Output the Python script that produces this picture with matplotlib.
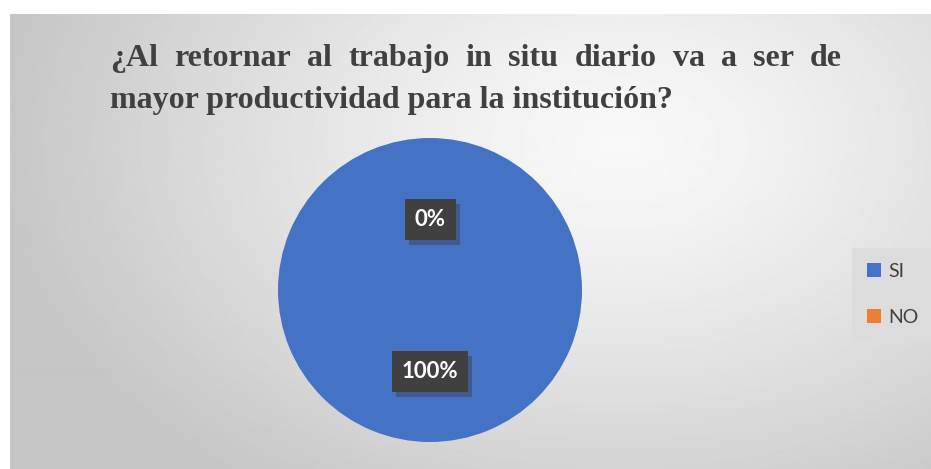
import numpy as np
import matplotlib.pyplot as plt
from matplotlib import patheffects

# datos del gráfico
categorias = ['SI', 'NO']
valores = [100, 0]
colores = ['#4472C4', '#ED7D31']
titulo_l1 = '¿Al retornar al trabajo in situ diario va a ser de'
titulo_l2 = 'mayor productividad para la institución?'

W, H = 931, 469
fig = plt.figure(figsize=(W / 100, H / 100), dpi=100)
fig.patch.set_facecolor('white')

# fondo con degradado radial (área del gráfico)
bg = fig.add_axes([10 / W, 0, (W - 10) / W, (H - 14) / H])
yy, xx = np.mgrid[0:455, 0:921]
cx, cy = 610, 130
d = np.sqrt(((xx - cx) / 620) ** 2 + ((yy - cy) / 420) ** 2)
grad = 0.975 - 0.20 * np.clip(d, 0, 1) ** 1.3
bg.imshow(grad, cmap='gray', vmin=0, vmax=1, aspect='auto', interpolation='bilinear')
bg.set_axis_off()

# titulo justificado
fig.canvas.draw()
renderer = fig.canvas.get_renderer()
tprops = dict(fontsize=23, fontweight='bold', family='Liberation Serif', color='#404040')
x0, x1 = 110, 842
palabras = titulo_l1.split()
textos = [fig.text(0, 0, p, **tprops) for p in palabras]
anchos = [t.get_window_extent(renderer).width for t in textos]
hueco = (x1 - x0 - sum(anchos)) / (len(palabras) - 1)
x = x0
for t, w in zip(textos, anchos):
    t.set_position((x / W, 1 - 66 / H))
    x += w + hueco
fig.text(x0 / W, 1 - 108 / H, titulo_l2, **tprops)

# pastel
r = 152
ax = fig.add_axes([(430 - r) / W, (H - 290 - r) / H, 2 * r / W, 2 * r / H])
wedges, _, autotexts = ax.pie(valores, colors=colores, startangle=90, counterclock=False,
                              autopct='%1.0f%%', pctdistance=0.5,
                              wedgeprops=dict(linewidth=0))
ax.set_aspect('equal')
ax.set_xlim(-1, 1)
ax.set_ylim(-1, 1)
for t in autotexts:
    t.set_y(t.get_position()[1] - 0.035)
    t.set_color('white')
    t.set_fontsize(16)
    t.set_fontweight('bold')
    t.set_family('Lato')
    t.set_bbox(dict(boxstyle='square,pad=0.45', facecolor='#404040', edgecolor='none'))
    t.get_bbox_patch().set_path_effects([
        patheffects.SimplePatchShadow(offset=(3, -4), shadow_rgbFace='#3a4a6a', alpha=0.6),
        patheffects.Normal()])

# leyenda
leg = fig.legend(wedges, categorias, loc='upper left',
                 bbox_to_anchor=(852 / W, 1 - 248 / H), borderaxespad=0,
                 frameon=True, fancybox=False,
                 handlelength=0.75, handleheight=0.75, handletextpad=0.35,
                 labelspacing=1.5, borderpad=0.75,
                 prop=dict(family='Lato', size=14))
leg.get_frame().set_facecolor('#dcdcdc')
leg.get_frame().set_edgecolor('none')
leg.get_frame().set_alpha(1)
for txt in leg.get_texts():
    txt.set_color('#404040')

fig.savefig('out.png', dpi=100)
